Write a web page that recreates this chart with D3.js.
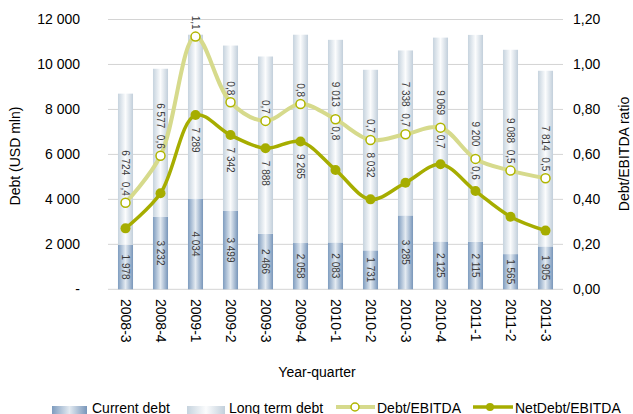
<!DOCTYPE html>
<html lang="en">
<head>
    <meta charset="UTF-8">
    <title>Debt and Debt/EBITDA</title>
    <style>
        body { margin: 0; background: #fff; }
        svg { font-family: "Liberation Sans", Arial, sans-serif; }
        .tick-label { font-size: 14px; fill: #000; }
        .val-label { font-size: 10px; fill: #3a3a3a; }
    </style>
</head>
<body>
    <script src="https://d3js.org/d3.v7.min.js"></script>
    <script>
        const categories = ["2008-3", "2008-4", "2009-1", "2009-2", "2009-3", "2009-4", "2010-1",
                            "2010-2", "2010-3", "2010-4", "2011-1", "2011-2", "2011-3"];
        const currentDebt = [1978, 3232, 4034, 3499, 2466, 2058, 2083, 1731, 3285, 2125, 2115, 1565, 1905];
        const longTermDebt = [6724, 6577, 7289, 7342, 7888, 9265, 9013, 8032, 7338, 9069, 9200, 9088, 7814];
        const debtEbitda = [0.385, 0.594, 1.124, 0.832, 0.749, 0.824, 0.756, 0.664, 0.690, 0.719, 0.580, 0.528, 0.494];
        const netDebtEbitda = [0.271, 0.427, 0.775, 0.686, 0.627, 0.657, 0.531, 0.400, 0.474, 0.556, 0.437, 0.323, 0.261];
        const ratioLabelSide = ["above", "above", "above", "above", "above", "above", "below",
                                "above", "above", "below", "below", "above", "above"];
        const leftTicks = [0, 2000, 4000, 6000, 8000, 10000, 12000];
        const rightTicks = [0, 0.2, 0.4, 0.6, 0.8, 1.0, 1.2];

        const width = 633, height = 414;
        const plot = { left: 108, right: 563, top: 19.5, bottom: 289.3 };

        const svg = d3.select("body").append("svg")
            .attr("width", width)
            .attr("height", height);

        const defs = svg.append("defs");
        function gradient(id, edgeL, mid, edgeR) {
            const g = defs.append("linearGradient").attr("id", id)
                .attr("x1", "0%").attr("x2", "100%").attr("y1", "0%").attr("y2", "0%");
            g.append("stop").attr("offset", "0%").attr("stop-color", edgeL);
            g.append("stop").attr("offset", "50%").attr("stop-color", mid);
            g.append("stop").attr("offset", "100%").attr("stop-color", edgeR);
        }
        gradient("gCurrent", "#7e9cbf", "#e3eaf1", "#7896ba");
        gradient("gLong", "#c6d3de", "#fbfcfd", "#c2cfdb");

        const x = d3.scaleBand()
            .domain(categories)
            .range([plot.left, plot.right])
            .paddingInner(0.57)
            .paddingOuter(0.285);

        const y = d3.scaleLinear().domain([0, 12000]).range([plot.bottom, plot.top]);
        const y2 = d3.scaleLinear().domain([0, 1.2]).range([plot.bottom, plot.top]);

        const fmtThousands = d => d3.format(",")(d).replace(/,/g, " ");
        const fmtRatio = (d, n) => d.toFixed(n).replace(".", ",");

        // gridlines
        svg.append("g").selectAll("line")
            .data(leftTicks)
            .join("line")
            .attr("x1", plot.left).attr("x2", plot.right)
            .attr("y1", d => y(d)).attr("y2", d => y(d))
            .attr("stroke", "#d4d4d4").attr("stroke-width", 1);

        // left ticks
        svg.append("g").selectAll("text")
            .data(leftTicks)
            .join("text")
            .attr("class", "tick-label")
            .attr("x", 80).attr("y", d => y(d))
            .attr("dy", "0.35em")
            .attr("text-anchor", "end")
            .text(d => d === 0 ? "-" : fmtThousands(d));

        // right ticks
        svg.append("g").selectAll("text")
            .data(rightTicks)
            .join("text")
            .attr("class", "tick-label")
            .attr("x", 573).attr("y", d => y2(d))
            .attr("dy", "0.35em")
            .text(d => fmtRatio(d, 2));

        // x ticks, rotated
        svg.append("g").selectAll("text")
            .data(categories)
            .join("text")
            .attr("class", "tick-label")
            .attr("transform", d => `translate(${x(d) + x.bandwidth() / 2},299) rotate(90)`)
            .attr("dy", "0.35em")
            .text(d => d);

        // axis titles
        svg.append("text")
            .attr("transform", "translate(20,156) rotate(-90)")
            .attr("text-anchor", "middle")
            .attr("font-size", 14)
            .text("Debt (USD mln)");
        svg.append("text")
            .attr("transform", "translate(629,154) rotate(-90)")
            .attr("text-anchor", "middle")
            .attr("font-size", 14)
            .text("Debt/EBITDA ratio");
        svg.append("text")
            .attr("x", 317).attr("y", 377)
            .attr("text-anchor", "middle")
            .attr("font-size", 14)
            .text("Year-quarter");

        // stacked bars
        const rows = categories.map((c, i) => ({
            cat: c, cur: currentDebt[i], lt: longTermDebt[i],
            r: debtEbitda[i], nr: netDebtEbitda[i], side: ratioLabelSide[i]
        }));

        const bars = svg.append("g");
        bars.selectAll(".cur")
            .data(rows)
            .join("rect")
            .attr("x", d => x(d.cat)).attr("width", x.bandwidth())
            .attr("y", d => y(d.cur)).attr("height", d => y(0) - y(d.cur))
            .attr("fill", "url(#gCurrent)");
        bars.selectAll(".lt")
            .data(rows)
            .join("rect")
            .attr("x", d => x(d.cat)).attr("width", x.bandwidth())
            .attr("y", d => y(d.cur + d.lt)).attr("height", d => y(d.cur) - y(d.cur + d.lt))
            .attr("fill", "url(#gLong)");

        const cx = d => x(d.cat) + x.bandwidth() / 2;

        // ratio label span (vertical) for each column
        const ratioSpan = d => {
            const my = y2(d.r);
            return d.side === "above" ? [my - 22, my - 7] : [my + 7, my + 22];
        };

        // place long-term label at segment centre, moved off the line markers if needed
        function placeLong(d) {
            const top = y(d.cur + d.lt), bottom = y(d.cur);
            const h = 14, pad = 3;
            const obs = [ratioSpan(d), [y2(d.r) - 7, y2(d.r) + 7], [y2(d.nr) - 7, y2(d.nr) + 7]];
            const free = c => obs.every(o => c + h + pad < o[0] || c - h - pad > o[1]) &&
                              c - h >= top + 2 && c + h <= bottom - 2;
            const mid = (top + bottom) / 2;
            if (free(mid)) return mid;
            const cands = [];
            obs.forEach(o => { cands.push(o[0] - h - pad - 1); cands.push(o[1] + h + pad + 1); });
            const ok = cands.filter(free).sort((a, b) => Math.abs(a - mid) - Math.abs(b - mid));
            return ok.length ? ok[0] : mid;
        }

        const labels = svg.append("g");
        labels.selectAll(".lcur")
            .data(rows)
            .join("text")
            .attr("class", "val-label")
            .attr("transform", d => `translate(${cx(d)},${(y(0) + y(d.cur)) / 2}) rotate(90)`)
            .attr("text-anchor", "middle")
            .attr("dy", "0.35em")
            .text(d => fmtThousands(d.cur));
        labels.selectAll(".llt")
            .data(rows)
            .join("text")
            .attr("class", "val-label")
            .attr("transform", d => `translate(${cx(d)},${placeLong(d)}) rotate(90)`)
            .attr("text-anchor", "middle")
            .attr("dy", "0.35em")
            .text(d => fmtThousands(d.lt));

        // lines
        const lineR = d3.line().x(cx).y(d => y2(d.r)).curve(d3.curveCatmullRom.alpha(0.5));
        const lineN = d3.line().x(cx).y(d => y2(d.nr)).curve(d3.curveCatmullRom.alpha(0.5));

        const debtLineColor = "#d6da8c", debtMarkColor = "#b0b500", netColor = "#a6ad00";

        svg.append("path").datum(rows)
            .attr("d", lineR)
            .attr("fill", "none").attr("stroke", debtLineColor).attr("stroke-width", 4);
        svg.append("path").datum(rows)
            .attr("d", lineN)
            .attr("fill", "none").attr("stroke", netColor).attr("stroke-width", 3.5);

        svg.append("g").selectAll("circle")
            .data(rows)
            .join("circle")
            .attr("cx", cx).attr("cy", d => y2(d.r)).attr("r", 4.5)
            .attr("fill", "#fff").attr("stroke", debtMarkColor).attr("stroke-width", 1.5);
        svg.append("g").selectAll("circle")
            .data(rows)
            .join("circle")
            .attr("cx", cx).attr("cy", d => y2(d.nr)).attr("r", 5)
            .attr("fill", netColor);

        // ratio labels
        svg.append("g").selectAll("text")
            .data(rows)
            .join("text")
            .attr("class", "val-label")
            .attr("transform", d => {
                const s = ratioSpan(d);
                return `translate(${cx(d)},${d.side === "above" ? s[1] : s[0]}) rotate(90)`;
            })
            .attr("text-anchor", d => d.side === "above" ? "end" : "start")
            .attr("dy", "0.35em")
            .text(d => fmtRatio(d.r, 1));

        // legend
        const lg = svg.append("g").attr("font-size", 14);
        lg.append("rect").attr("x", 52).attr("y", 406).attr("width", 35).attr("height", 8).attr("fill", "url(#gCurrent)");
        lg.append("text").attr("x", 92).attr("y", 413).text("Current debt");
        lg.append("rect").attr("x", 187).attr("y", 406).attr("width", 38).attr("height", 8).attr("fill", "url(#gLong)");
        lg.append("text").attr("x", 229).attr("y", 413).text("Long term debt");
        lg.append("line").attr("x1", 336).attr("x2", 375).attr("y1", 407).attr("y2", 407)
            .attr("stroke", debtLineColor).attr("stroke-width", 4);
        lg.append("circle").attr("cx", 355).attr("cy", 407).attr("r", 4)
            .attr("fill", "#fff").attr("stroke", debtMarkColor).attr("stroke-width", 1.5);
        lg.append("text").attr("x", 377).attr("y", 413).text("Debt/EBITDA");
        lg.append("line").attr("x1", 473).attr("x2", 513).attr("y1", 407).attr("y2", 407)
            .attr("stroke", netColor).attr("stroke-width", 3.5);
        lg.append("circle").attr("cx", 490).attr("cy", 407).attr("r", 4).attr("fill", netColor);
        lg.append("text").attr("x", 515).attr("y", 413).text("NetDebt/EBITDA");
    </script>
</body>
</html>
